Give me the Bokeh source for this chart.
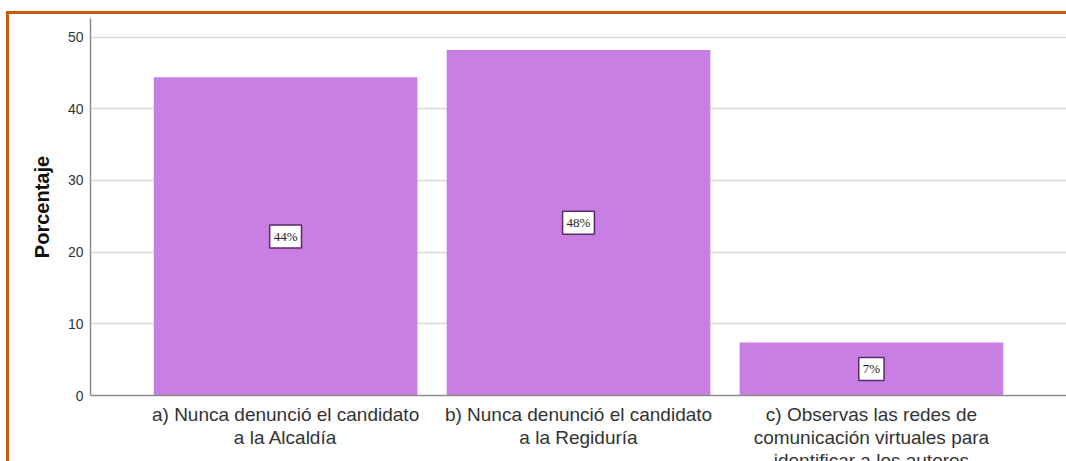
from bokeh.plotting import figure
from bokeh.models import ColumnDataSource, Range1d, FixedTicker
from bokeh.embed import file_html
from bokeh.resources import INLINE

categories = [
    "a) Nunca denunció el candidato\na la Alcaldía",
    "b) Nunca denunció el candidato\na la Regiduría",
    "c) Observas las redes de\ncomunicación virtuales para\nidentificar a los autores",
]
values = [44.4, 48.2, 7.4]
value_labels = ["44%", "48%", "7%"]
y_ticks = [0, 10, 20, 30, 40, 50]

xs = list(range(len(categories)))
src = ColumnDataSource(dict(
    x=xs,
    top=values,
    mid=[v / 2 for v in values],
    lab=value_labels,
))

p = figure(
    frame_width=976, frame_height=377,
    x_range=Range1d(-0.666, 2.666), y_range=Range1d(0, 52.6),
    output_backend="svg", toolbar_location=None,
    min_border_left=81, min_border_top=4, min_border_right=0, min_border_bottom=10,
)
p.styles = {"border-top": "3px solid #C65A14", "border-left": "3px solid #C65A14",
            "margin-top": "11px", "margin-left": "6px"}
p.outline_line_color = None
p.background_fill_color = "white"
p.border_fill_color = "white"

p.vbar(x="x", top="top", width=0.9, source=src, fill_color="#C97EE3", line_color=None)

p.text(x="x", y="mid", text="lab", source=src,
       text_align="center", text_baseline="middle",
       text_font="Liberation Sans", text_font_size="13px", text_color="#222222",
       background_fill_color="white", border_line_color="#5A2A6A",
       border_line_width=1.5, padding=4)

p.xgrid.visible = False
p.ygrid.grid_line_color = "#D9D9D9"
p.ygrid.grid_line_width = 1.5
p.yaxis.ticker = FixedTicker(ticks=y_ticks)
p.xaxis.ticker = FixedTicker(ticks=xs)
p.xaxis.major_label_overrides = {i: c for i, c in zip(xs, categories)}

for ax in (p.xaxis[0], p.yaxis[0]):
    ax.axis_line_color = "#8C8C8C"
    ax.axis_line_width = 1.5
    ax.major_tick_line_color = None
    ax.minor_tick_line_color = None
    ax.major_tick_out = 0
    ax.major_tick_in = 0
    ax.major_label_text_font = "Liberation Sans"
    ax.major_label_text_color = "#333333"

p.yaxis.major_label_text_font_size = "14px"
p.yaxis.major_label_standoff = 7
p.yaxis.axis_label = "Porcentaje"
p.yaxis.axis_label_text_font = "Liberation Sans"
p.yaxis.axis_label_text_font_size = "20px"
p.yaxis.axis_label_text_font_style = "bold"
p.yaxis.axis_label_text_color = "#111111"
p.yaxis.axis_label_standoff = 12

p.xaxis.major_label_text_font_size = "19px"
p.xaxis.major_label_standoff = 8
p.xaxis.major_label_text_line_height = 1.1

open("out.html", "w").write(file_html(p, INLINE))
